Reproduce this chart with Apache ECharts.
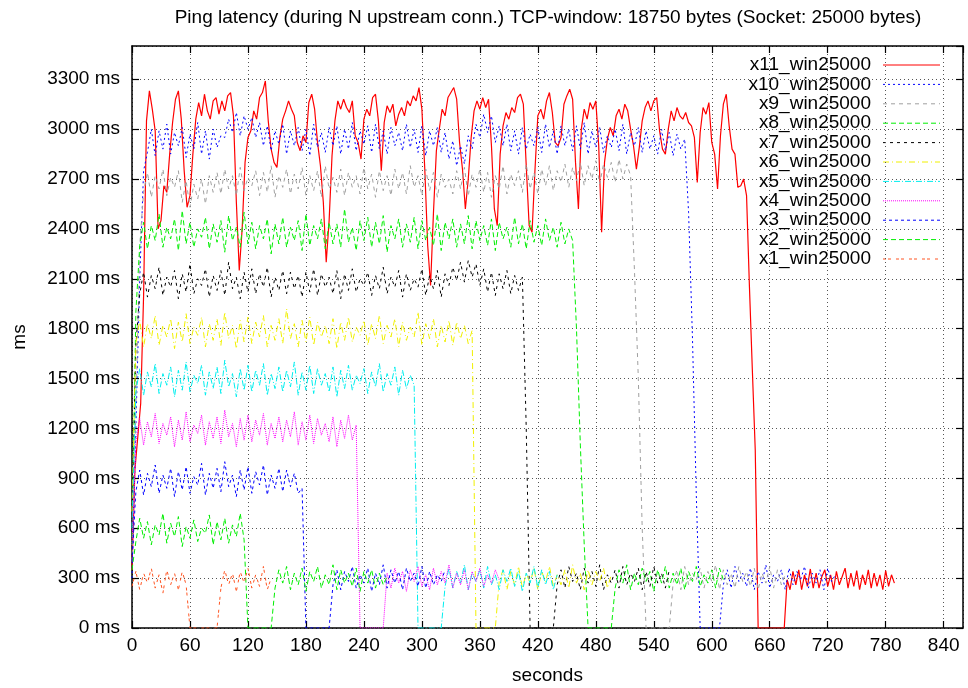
<!DOCTYPE html>
<html>
<head>
<meta charset="utf-8">
<script src="https://cdn.jsdelivr.net/npm/echarts@6/dist/echarts.min.js"></script>
<style>
  html, body { margin: 0; padding: 0; background: #fff; }
  #chart { width: 968px; height: 688px; }
</style>
</head>
<body>
<div id="chart"></div>
<script>
// Ping latency (ms) sampled at a fixed step (seconds) for each run with N upstream connections.
const STEP_X11 = 3;
const STEP = 4;

const x11 = [
  350,950,1150,1350,2000,3050,3230,3120,2990,2400,
  2450,2660,2620,2850,3040,3180,3230,3060,2750,2530,
  2600,2850,3060,3160,3080,3210,3110,3060,3170,3190,
  3090,3170,3110,3200,3220,3080,2560,2150,2400,2800,
  2950,2990,3110,3060,3190,3220,3290,3050,2880,2800,
  2770,2950,3060,3110,3170,3120,3080,2920,2870,2960,
  2920,3160,3210,3120,2920,2780,2560,2200,2450,2840,
  3050,3170,3120,3180,3130,3100,3170,2960,2920,2820,
  3060,3120,3080,3190,3210,3050,2750,3040,3140,3100,
  3150,3020,3090,3130,3080,3170,3140,3200,3170,3250,
  3120,2760,2300,2060,2500,2870,3000,3120,3080,3190,
  3220,3250,3180,2920,2760,2520,2700,2950,3110,3170,
  3120,3190,3130,3180,2900,2520,2420,2850,3020,3100,
  3060,3130,3100,3190,3210,3150,2780,2420,2380,2750,
  3080,3120,3060,3170,3220,3100,2920,2900,2950,3150,
  3200,3240,3180,2800,2520,3000,3120,3060,3160,3120,
  3170,2900,2380,2800,2940,3010,2960,3080,3120,3060,
  3150,3110,3000,2900,2760,2890,3050,3130,3170,3110,
  3170,3190,2990,2880,2850,3000,3110,3050,3130,3080,
  3060,3100,3040,3020,2950,2680,2980,3130,3090,3160,
  2920,2850,2640,2960,3150,3210,3020,2880,2850,2650,
  2660,2700,2600,2050,1550,1070,
  0,0,0,0,0,0,0,0,0,0,
  290,230,340,260,350,230,320,250,355,240,
  330,240,310,350,250,320,230,340,260,310,
  360,240,330,250,345,230,320,260,350,240,
  330,250,320,230,345,250,320,270
];

const x10 = [
  300,1200,2100,2750,
  2860,3000,2840,2990,2880,3030,2850,2980,2900,3010,
  2830,2970,2880,3040,2850,2990,2820,3000,2890,2960,
  2950,3060,2980,3100,2960,3080,3000,3070,2950,3040,
  2900,3020,2870,2990,2910,3030,2850,2990,2900,3010,
  2870,3000,2840,3030,2890,2980,2860,3010,2900,3020,
  2850,3000,2880,3040,2870,2990,2910,3020,2860,3030,
  2880,2990,2850,3010,2900,2980,2870,3030,2890,3000,
  2860,3020,2840,2990,2900,3010,2860,2980,2820,2930,
  2780,2900,2790,2960,2880,3030,2950,3090,2980,3080,
  2920,3020,2900,3030,2870,2990,2850,3010,2880,2970,
  2900,3010,2860,3030,2890,2990,2850,3020,2900,3000,
  2870,3020,2880,3040,2850,2990,2890,3010,2860,2960,
  2890,3000,2870,3030,2850,2980,2900,3010,2860,2990,
  2880,2960,2850,3000,2870,2980,2840,2970,2880,2940,
  2500,1750,800,
  0,0,0,0,0,0,
  260,350,240,370,280,330,250,360,230,340,
  270,380,240,320,280,350,230,360,260,340,
  290,370,240,330,270,350,230,360,280,320
];

const x9 = [
  400,1300,2300,
  2620,2740,2590,2720,2640,2760,2600,2710,2650,2750,
  2560,2690,2530,2670,2580,2700,2550,2720,2620,2740,
  2610,2760,2640,2720,2600,2770,2630,2710,2660,2750,
  2600,2740,2620,2780,2590,2720,2650,2760,2610,2730,
  2640,2770,2600,2720,2630,2750,2590,2780,2640,2710,
  2620,2760,2600,2740,2650,2720,2610,2770,2640,2730,
  2590,2750,2630,2720,2600,2760,2640,2740,2610,2780,
  2650,2720,2600,2760,2630,2740,2590,2730,2650,2700,
  2610,2750,2640,2770,2600,2730,2650,2760,2620,2740,
  2590,2720,2640,2780,2610,2730,2660,2750,2620,2790,
  2640,2740,2610,2760,2660,2780,2630,2750,2680,2790,
  2650,2770,2690,2800,2660,2780,2700,2810,2670,2790,
  2710,2800,2680,2820,2700,2790,2720,
  2150,1500,600,
  0,0,0,0,0,0,0,
  270,350,230,370,260,330,290,360,240,340,
  280,380,230,350,260,330,240,370,280,340,
  250,360,230,330,270,370,240,350,260,320
];

const x8 = [
  500,1900,
  2300,2440,2280,2420,2330,2490,2290,2410,2340,2460,
  2270,2510,2310,2440,2290,2400,2350,2470,2280,2430,
  2320,2450,2260,2480,2330,2410,2290,2500,2310,2440,
  2280,2420,2340,2460,2250,2430,2310,2470,2290,2410,
  2330,2450,2270,2490,2300,2420,2340,2460,2280,2440,
  2310,2430,2290,2520,2320,2410,2270,2450,2330,2470,
  2290,2440,2310,2480,2260,2420,2340,2460,2290,2430,
  2320,2470,2280,2450,2330,2410,2300,2490,2270,2440,
  2340,2460,2290,2430,2310,2480,2280,2450,2330,2420,
  2300,2460,2270,2440,2340,2410,2290,2470,2310,2430,
  2280,2450,2320,2420,2300,2460,2330,2410,2290,2440,
  2310,2400,2330,
  1800,1100,500,
  0,0,0,0,0,0,0,
  240,350,270,380,230,330,260,360,280,340,
  220,350,270,370,240,330,260,360,230,340,
  280,370,250,320,270,350,240,360,290
];

const x7 = [
  600,1700,
  2010,2140,1990,2120,2040,2170,2000,2110,2050,2150,
  1980,2130,2020,2190,2010,2100,2060,2160,1990,2120,
  2030,2150,2000,2200,2040,2110,1980,2140,2020,2160,
  2010,2130,2050,2170,1990,2110,2030,2150,2010,2140,
  2040,2120,1990,2140,2020,2160,2000,2130,2050,2110,
  2010,2150,1980,2130,2030,2160,2020,2100,2060,2140,
  2000,2120,2040,2170,2010,2110,2050,2150,1990,2130,
  2030,2100,2050,2160,2000,2120,2040,2150,1990,2130,
  2060,2170,2090,2200,2080,2210,2110,2190,2060,2160,
  2020,2140,2000,2130,2040,2150,2010,2120,2030,2110,
  1200,
  0,0,0,0,0,0,0,
  260,350,240,370,280,330,230,360,270,340,
  250,380,230,320,270,350,240,370,260,330,
  280,360,230,340,250,370,270,330,240,350
];

const x6 = [
  700,
  1710,1850,1690,1830,1740,1880,1700,1820,1750,1860,
  1680,1840,1720,1890,1710,1810,1760,1870,1690,1830,
  1730,1860,1700,1900,1740,1820,1680,1850,1720,1870,
  1710,1840,1750,1880,1690,1820,1730,1860,1710,1920,
  1740,1830,1690,1850,1720,1870,1700,1840,1750,1820,
  1710,1860,1680,1840,1730,1870,1720,1810,1760,1850,
  1700,1830,1740,1880,1710,1820,1750,1860,1690,1840,
  1730,1810,1750,1900,1700,1830,1740,1860,1690,1820,
  1720,1850,1700,1840,1740,1820,1710,1790,
  0,0,0,0,0,0,
  280,350,230,340,260,370,240,330,270,360,
  230,340,280,370,250,320,260,350,240,380,
  270,330,230,350,260,340,280,360,240,320
];

const x5 = [
  600,
  1420,1560,1400,1540,1450,1590,1410,1530,1460,1570,
  1390,1550,1430,1600,1420,1520,1470,1580,1400,1540,
  1440,1570,1410,1610,1450,1530,1390,1560,1430,1580,
  1420,1550,1460,1590,1400,1530,1440,1570,1420,1550,
  1450,1600,1400,1540,1430,1580,1410,1560,1460,1530,
  1420,1570,1390,1550,1440,1580,1430,1520,1470,1560,
  1410,1540,1450,1590,1420,1530,1460,1570,1400,1550,
  1440,1520,1460,
  0,0,0,0,0,0,0,
  250,360,240,340,270,380,230,330,280,350,
  240,370,260,320,230,350,280,360,250,340,
  220,330,270,370,240,350,260,340,230,320
];

const x4 = [
  500,
  1120,1260,1100,1240,1150,1290,1110,1230,1160,1270,
  1090,1250,1130,1300,1120,1220,1170,1280,1100,1240,
  1140,1270,1110,1310,1150,1230,1090,1260,1130,1280,
  1120,1250,1160,1290,1100,1230,1140,1270,1120,1250,
  1150,1300,1100,1240,1130,1280,1110,1260,1160,1230,
  1120,1270,1090,1250,1140,1280,1130,1220,
  0,0,0,0,0,0,0,
  330,240,360,270,340,220,350,280,370,250,
  320,230,360,260,340,270,380,240,330,260,
  350,230,340,280,360,250,320,270,350,290
];

const x3 = [
  400,
  820,950,800,930,850,980,810,920,840,960,
  790,940,830,970,810,910,860,990,800,930,
  840,960,820,1000,850,920,790,950,830,970,
  810,940,860,980,800,920,840,960,820,950,
  850,930,810,
  840,
  0,0,0,0,0,0,0,
  260,350,230,340,280,370,240,320,270,360,
  220,330,260,380,240,350,270,340,230,360,
  280,330,250,370,240,340,260,320,280,350
];

const x2 = [
  350,
  520,660,540,640,500,620,560,690,510,630,
  550,670,490,610,540,650,520,600,570,680,
  500,640,530,660,510,620,550,690,530,
  0,0,0,0,0,0,0,
  240,350,270,370,230,330,260,360,220,340,
  280,370,240,320,260,380,230,350,270,330,
  250,360,220,340,270,350,240,330,260,310
];

const x1 = [
  250,340,230,330,270,360,240,320,210,350,
  260,330,230,340,260,
  0,0,0,0,0,0,0,0,
  240,350,260,330,220,340,270,360,240,320,
  250,370,230,300
];

const seriesNames = [
  'x11_win25000','x10_win25000','x9_win25000','x8_win25000','x7_win25000',
  'x6_win25000','x5_win25000','x4_win25000','x3_win25000','x2_win25000','x1_win25000'
];
const seriesValues = [x11, x10, x9, x8, x7, x6, x5, x4, x3, x2, x1];
const seriesSteps = [STEP_X11, STEP, STEP, STEP, STEP, STEP, STEP, STEP, STEP, STEP, STEP];

const yTicks = { min: 0, max: 3500, interval: 300 };
const xTicks = { min: 0, max: 860, interval: 60 };

const TITLE = 'Ping latency (during N upstream conn.) TCP-window: 18750 bytes (Socket: 25000 bytes)';

// Line appearance per run (colour, dash pattern, width).
const styles = [
  { color: '#ff0000', dash: 'solid', width: 1.2 },
  { color: '#0000ff', dash: [2, 3], width: 1 },
  { color: '#a0a0a0', dash: [4, 4], width: 1 },
  { color: '#00ee00', dash: [5, 3], width: 1 },
  { color: '#000000', dash: [3, 4], width: 1 },
  { color: '#f0f000', dash: [6, 3, 1, 3], width: 1 },
  { color: '#00eeee', dash: [6, 2, 1, 2], width: 1 },
  { color: '#ff00ff', dash: [1, 1], width: 1 },
  { color: '#0000ff', dash: [3, 3], width: 1 },
  { color: '#00ee00', dash: [5, 3], width: 1 },
  { color: '#ff5522', dash: [3, 2, 3, 5], width: 1 }
];

const FONT = '"Liberation Sans", Arial, Helvetica, sans-serif';
const FS = 19;

function toPoints(values, step) {
  return values.map((v, i) => [i * step, v]);
}

const chart = echarts.init(document.getElementById('chart'), null, { renderer: 'canvas' });

const gridLine = { show: true, lineStyle: { color: '#555', width: 1, type: [1, 3] } };
const frameLine = { show: true, onZero: false, lineStyle: { color: '#000', width: 1.5 } };
const innerTick = { show: true, inside: true, length: 7, lineStyle: { color: '#000', width: 1.2 } };

// Legend drawn as right-aligned text with a line sample to its right.
const legendGraphics = [];
seriesNames.forEach((name, i) => {
  const y = 65 + i * 19.4;
  legendGraphics.push({
    type: 'text',
    silent: true,
    style: {
      text: name, x: 871, y: y,
      align: 'right', verticalAlign: 'middle',
      textAlign: 'right', textVerticalAlign: 'middle',
      fontSize: FS, fontFamily: FONT, fill: '#000'
    }
  });
  const d = styles[i].dash;
  legendGraphics.push({
    type: 'line',
    silent: true,
    shape: { x1: 883, y1: y, x2: 940, y2: y },
    style: { stroke: styles[i].color, lineWidth: 1, lineDash: d === 'solid' ? null : d }
  });
});

const option = {
  animation: false,
  backgroundColor: '#ffffff',
  textStyle: { fontFamily: FONT },
  title: {
    text: TITLE,
    left: 548, top: 8, textAlign: 'center', padding: 0,
    textStyle: { fontSize: FS, fontWeight: 'normal', color: '#000', fontFamily: FONT }
  },
  grid: { left: 132, right: 5, top: 46, bottom: 60, containLabel: false, outerBoundsMode: 'none' },
  xAxis: [
    {
      type: 'value', position: 'bottom', min: xTicks.min, max: xTicks.max, interval: xTicks.interval,
      axisLine: frameLine, axisTick: innerTick, splitLine: gridLine,
      axisLabel: { fontSize: FS, color: '#000', margin: 8, fontFamily: FONT, showMaxLabel: false,
                   formatter: function (v) { return String(v); } },
      name: 'seconds', nameLocation: 'middle', nameGap: 38,
      nameTextStyle: { fontSize: FS, color: '#000', fontFamily: FONT }
    },
    {
      type: 'value', position: 'top', min: xTicks.min, max: xTicks.max, interval: xTicks.interval,
      axisLine: frameLine, axisTick: innerTick, splitLine: { show: false }, axisLabel: { show: false }
    }
  ],
  yAxis: [
    {
      type: 'value', position: 'left', min: yTicks.min, max: yTicks.max, interval: yTicks.interval,
      axisLine: frameLine, axisTick: innerTick, splitLine: gridLine,
      axisLabel: { fontSize: FS, color: '#000', margin: 12, fontFamily: FONT, showMaxLabel: false,
                   formatter: function (v) { return v + ' ms'; } },
      name: 'ms', nameLocation: 'middle', nameGap: 103, nameRotate: 90,
      nameTextStyle: { fontSize: FS, color: '#000', fontFamily: FONT }
    },
    {
      type: 'value', position: 'right', min: yTicks.min, max: yTicks.max, interval: yTicks.interval,
      axisLine: frameLine, axisTick: innerTick, splitLine: { show: false }, axisLabel: { show: false }
    }
  ],
  graphic: legendGraphics,
  series: seriesNames.map((name, i) => ({
    name: name,
    type: 'line',
    xAxisIndex: 0,
    yAxisIndex: 0,
    showSymbol: false,
    symbol: 'none',
    silent: true,
    clip: true,
    lineStyle: { color: styles[i].color, width: styles[i].width, type: styles[i].dash },
    data: toPoints(seriesValues[i], seriesSteps[i])
  }))
};

chart.setOption(option);
</script>
</body>
</html>
